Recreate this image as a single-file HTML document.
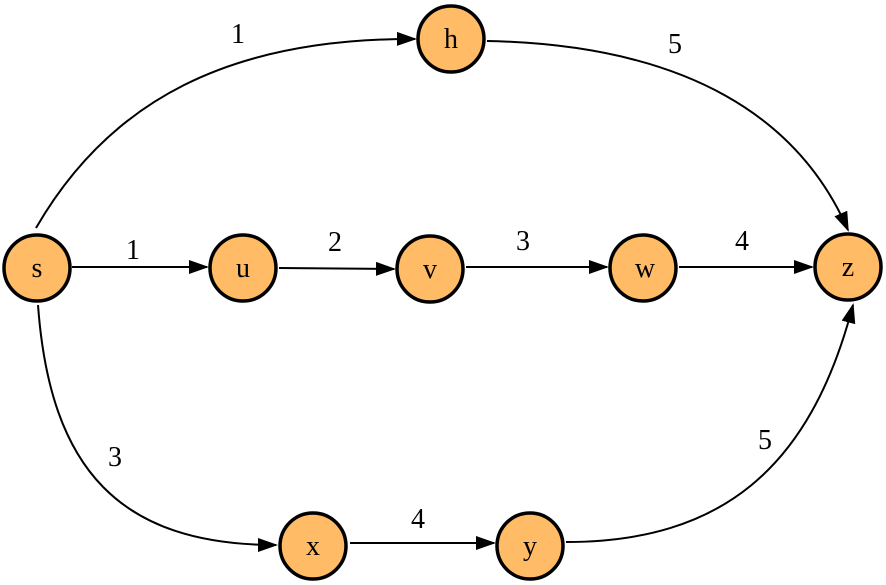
<!DOCTYPE html>
<html><head><style>body{margin:0;background:#fff}svg{display:block}</style></head><body>
<svg width="886" height="585" viewBox="0 0 886 585" xmlns="http://www.w3.org/2000/svg">
<defs><marker id="a" markerWidth="20" markerHeight="14" refX="18" refY="7" orient="auto" markerUnits="userSpaceOnUse" viewBox="0 0 20 14"><path d="M0,0 L20,7 L0,14 Z" fill="#000"/></marker></defs>
<g fill="none" stroke="#000" stroke-width="2" marker-end="url(#a)">
<path d="M36,228 C110,100 230,38 415,39"/>
<path d="M72,267 L207,267"/>
<path d="M279,268 L394,269"/>
<path d="M466,267 L607,267"/>
<path d="M679,267 L812,267"/>
<path d="M487,41 C690,45 800,120 848,230"/>
<path d="M38,305 C50,470 120,545 276,545"/>
<path d="M350,543 L494,543"/>
<path d="M566,542 C720,542 810,470 853,305"/>
</g>
<g fill="#ffbb66" stroke="#000" stroke-width="3.5">
<circle cx="37" cy="268" r="33"/>
<circle cx="451" cy="39" r="33"/>
<circle cx="243" cy="268" r="33"/>
<circle cx="430" cy="269" r="33"/>
<circle cx="643" cy="268" r="33"/>
<circle cx="848" cy="267" r="33"/>
<circle cx="313" cy="546" r="33"/>
<circle cx="530" cy="546" r="33"/>
</g>
<g font-family="Liberation Serif, serif" font-size="28" text-anchor="middle">
<text x="37" y="277">s</text><text x="451" y="48">h</text><text x="243" y="277">u</text><text x="430" y="278">v</text><text x="645" y="277">w</text><text x="848" y="276">z</text><text x="313" y="555">x</text><text x="530" y="555">y</text>
<text x="238" y="43">1</text><text x="675" y="53">5</text><text x="133" y="259">1</text><text x="335" y="251">2</text><text x="523" y="250">3</text><text x="742" y="250">4</text><text x="115" y="466">3</text><text x="418" y="528">4</text><text x="765" y="449">5</text>
</g>
</svg>
</body></html>
